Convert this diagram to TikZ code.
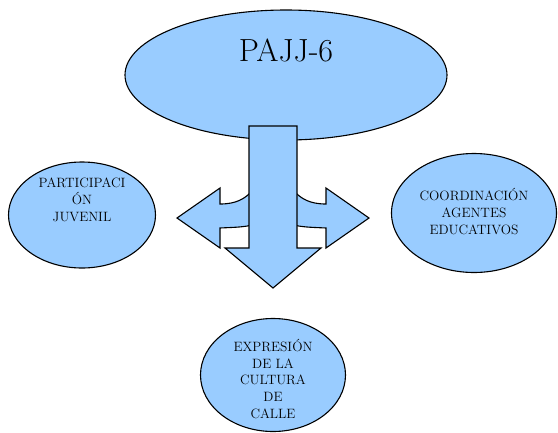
\documentclass[tikz,border=0pt]{standalone}
\usepackage{fontspec}
\usetikzlibrary{shapes.geometric}
\definecolor{skyb}{HTML}{99CCFF}

\begin{document}
\begin{tikzpicture}[x=1pt,y=-1pt,
		bubble/.style={ellipse,draw=black,fill=skyb,line width=1.1pt,inner sep=0pt},
		txt/.style={align=center,font=\fontsize{13.5}{16.8}\selectfont},
		blk/.style={draw=black,fill=skyb,line width=1.1pt,line join=miter}]
				\useasboundingbox (0,0) rectangle (558,432);
				% the four ellipses
				\node[bubble,minimum width=322pt,minimum height=130pt,
					label={[yshift=25pt,font=\fontsize{32}{38}\selectfont]center:PAJJ-6}] (pajj) at (286,75) {};
				\node[bubble,minimum width=147pt,minimum height=106pt,
					label={[yshift=15pt,txt]center:PARTICIPACI\\ÓN\\JUVENIL}] (part) at (82,215) {};
				\node[bubble,minimum width=165pt,minimum height=119pt,
					label={[yshift=1.5pt,txt]center:COORDINACIÓN\\AGENTES\\EDUCATIVOS}] (coord) at (474,213) {};
				\node[bubble,minimum width=145pt,minimum height=113pt,
					label={[yshift=-4pt,txt]center:EXPRESIÓN\\DE LA\\CULTURA\\DE\\CALLE}] (expr) at (273,375) {};
				% side arrows, bent out from behind the shaft
				\draw[blk] (177,218) -- (220,188) -- (220,204)
					.. controls (236,204) and (245,199) .. (253,190) -- (253,225)
					.. controls (242,227) .. (220,228) -- (220,248) -- cycle;
				\draw[blk] (369,218) -- (326,188) -- (326,204)
					.. controls (310,204) and (301,199) .. (293,190) -- (293,225)
					.. controls (304,227) .. (326,228) -- (326,248) -- cycle;
				% down arrow
				\draw[blk] (249,126) -- (297,126) -- (297,248) -- (321,248)
					-- (273,288) -- (225,248) -- (249,248) -- cycle;
			\end{tikzpicture}
\end{document}
